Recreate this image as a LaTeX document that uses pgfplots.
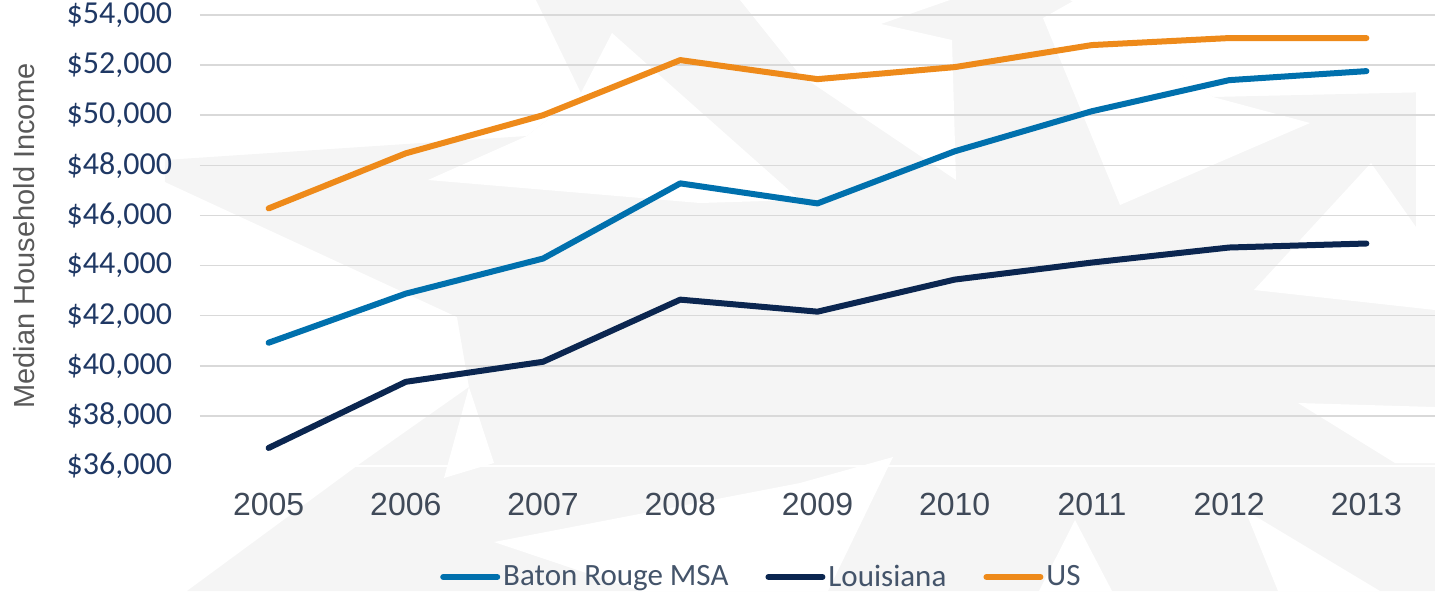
\documentclass[border=0pt]{standalone}
\usepackage{pgfplots}
\pgfplotsset{compat=1.18}
\usepackage{fontspec}
\setmainfont{Liberation Sans}
\newfontfamily\carlito{Carlito}
\definecolor{brblue}{HTML}{0070AD}
\definecolor{lanavy}{HTML}{0B2650}
\definecolor{usorange}{HTML}{EE8A1A}
\definecolor{ytick}{HTML}{1F3864}
\definecolor{xtick}{HTML}{404A59}
\definecolor{legtext}{HTML}{44546A}
\definecolor{ylab}{HTML}{595959}
\definecolor{wm}{HTML}{F5F5F5}
\begin{document}
\begin{tikzpicture}
\useasboundingbox (-100pt,-62.5pt) rectangle (617.5pt,233pt);
% faint background watermark (decoration only), in reference pixel units
\begin{scope}[x=0.5pt,y=-0.5pt,shift={(-100pt,233pt)}]
\fill[wm] (165,160) -- (527,136) -- (581,93) -- (536,0) -- (1070,0) -- (1213,97) -- (1435,92)
  -- (1435,591) -- (187,591) -- (361,463) -- (469,387) -- (457,317) -- (165,182) -- cycle;
\fill[white] (527,136) -- (428,180) -- (700,203) -- (800,200) -- (612,33) -- (581,93) -- cycle;
\fill[white] (740,0) -- (950,0) -- (881,24) -- (952,40) -- (956,180) -- (800,75) -- cycle;
\fill[white] (1043,18) -- (1075,0) -- (1213,97) -- (1310,123) -- (1120,205) -- cycle;
\fill[white] (1371,163) -- (1416,227) -- (1435,227) -- (1435,310) -- (1254,290) -- cycle;
\fill[white] (1416,92) -- (1435,92) -- (1435,227) -- (1416,227) -- cycle;
\fill[white] (1298,403) -- (1435,407) -- (1435,463) -- (1395,463) -- cycle;
\fill[white] (494,542) -- (800,483) -- (893,457) -- (828,591) -- (640,591) -- cycle;
\fill[white] (1075,520) -- (1039,591) -- (1112,591) -- cycle;
\fill[white] (1245,510) -- (1278,591) -- (1380,591) -- cycle;
\fill[white] (469,387) -- (444,478) -- (494,463) -- cycle;
\end{scope}
\begin{axis}[
  scale only axis,
  width=617.5pt, height=225.5pt,
  xmin=-0.5, xmax=8.5,
  ymin=36000, ymax=54000,
  ytick={36000,38000,...,54000},
  scaled y ticks=false,
  xtick={0,...,8},
  xticklabels={2005,2006,2007,2008,2009,2010,2011,2012,2013},
  axis line style={draw=none},
  tick style={draw=none},
  ymajorgrids,
  grid style={color=black!15, line width=0.75pt},
  /pgf/number format/assume math mode=true,
  /pgf/number format/fixed,
  /pgf/number format/1000 sep={,},
  yticklabel={\$\pgfmathprintnumber{\tick}},
  yticklabel style={font=\carlito\fontsize{16}{19}\selectfont, color=ytick, xshift=-10.5pt},
  xticklabel style={font=\fontsize{16}{19}\selectfont, color=xtick, yshift=-10pt},
  ylabel={Median Household Income},
  ylabel style={at={(axis description cs:-0.1425,0.51)}, anchor=center, font=\fontsize{14.5}{17}\selectfont, color=ylab},
  legend columns=3,
  legend style={at={(rel axis cs:0.455,-0.246)}, anchor=center, draw=none, fill=none,
    font=\carlito\fontsize{15.5}{18}\selectfont, text=legtext,
    nodes={inner xsep=1.5pt},
    /tikz/every even column/.append style={column sep=17pt}},
  legend image code/.code={\draw[#1, line width=3pt] (0pt,0pt) -- (27pt,0pt);},
  every axis plot/.append style={line width=3pt, line cap=round, line join=round},
]
\draw[white, line width=1.5pt] (rel axis cs:0,0) -- (rel axis cs:1,0);
\addplot[brblue] coordinates {(0,40920) (1,42880) (2,44280) (3,47280) (4,46480) (5,48560) (6,50160) (7,51400) (8,51760)};
\addlegendentry{Baton Rouge MSA}
\addplot[lanavy] coordinates {(0,36720) (1,39360) (2,40160) (3,42640) (4,42160) (5,43440) (6,44120) (7,44720) (8,44880)};
\addlegendentry{Louisiana}
\addplot[usorange] coordinates {(0,46280) (1,48480) (2,50000) (3,52200) (4,51440) (5,51920) (6,52800) (7,53080) (8,53080)};
\addlegendentry{US}
\end{axis}
\end{tikzpicture}
\end{document}
